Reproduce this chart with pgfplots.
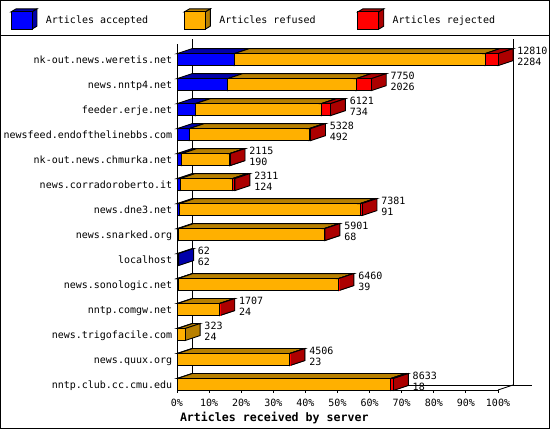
\documentclass[border=0pt]{standalone}
\usepackage{fontspec}
\setmainfont{DejaVu Sans Mono}
\usepackage{pgfplots}
\usepackage{pgfplotstable}
\pgfplotsset{compat=1.18}

\definecolor{cAcc}{RGB}{0,0,255}
\definecolor{cAccD}{RGB}{0,0,170}
\definecolor{cRef}{RGB}{255,176,0}
\definecolor{cRefD}{RGB}{184,128,0}
\definecolor{cRej}{RGB}{255,0,0}
\definecolor{cRejD}{RGB}{172,0,0}

\newcommand\chartfont{\fontsize{10bp}{12bp}\selectfont}
\newcommand\titlefont{\fontsize{11.6bp}{13bp}\selectfont\bfseries}

\pgfdeclareplotmark{empty}{}

% articles per server: accepted, refused, rejected, total
\pgfplotstableread{
y  name                          acc   ref    rej  total
0  nntp.club.cc.cmu.edu          18    8515   100  8633
1  news.quux.org                 23    4473   10   4506
2  news.trigofacile.com          24    299    0    323
3  nntp.comgw.net                24    1673   10   1707
4  news.sonologic.net            39    6406   15   6460
5  localhost                     62    0      0    62
6  news.snarked.org              68    5813   20   5901
7  news.dne3.net                 91    7210   80   7381
8  news.corradoroberto.it        124   2087   100  2311
9  nk-out.news.chmurka.net       190   1910   15   2115
10 newsfeed.endofthelinebbs.com  492   4776   60   5328
11 feeder.erje.net               734   5027   360  6121
12 news.nntp4.net                2026  5124   600  7750
13 nk-out.news.weretis.net       2284  10006  520  12810
}\servers

% one 3d bar segment per point, drawn left of the segment's right end;
% the segment length is the point meta (0..12810 -> 0..1000 -> 0..321bp)
\pgfplotsset{
  seg/.style 2 args={
    only marks, mark=empty, scatter,
    point meta=explicit, point meta min=0, point meta max=12810,
    scatter/@pre marker code/.code={%
      \pgfmathsetmacro\L{\pgfplotspointmetatransformed*0.321}%
      \pgfmathsetmacro\Lb{15-\L}%
      \ifdim\L pt>0pt
        \filldraw[draw=black,line width=0.9bp,fill=#2]
          (-\L bp,6bp) -- (0bp,6bp) -- (15bp,11bp) -- (\Lb bp,11bp) -- cycle;
        \filldraw[draw=black,line width=0.9bp,fill=#2]
          (0bp,-6bp) -- (15bp,-1bp) -- (15bp,11bp) -- (0bp,6bp) -- cycle;
        \filldraw[draw=black,line width=0.9bp,fill=#1]
          (-\L bp,-6bp) rectangle (0bp,6bp);
      \fi},
    scatter/@post marker code/.code={},
    legend image code/.code={%
      \filldraw[draw=black,line width=0.9bp,fill=#2]
        (0bp,8.6bp) -- (21bp,8.6bp) -- (26bp,11.6bp) -- (5bp,11.6bp) -- cycle;
      \filldraw[draw=black,line width=0.9bp,fill=#2]
        (21bp,-8.6bp) -- (26bp,-5.6bp) -- (26bp,11.6bp) -- (21bp,8.6bp) -- cycle;
      \filldraw[draw=black,line width=0.9bp,fill=#1]
        (0bp,-8.6bp) rectangle (21bp,8.6bp);},
  },
  countlabel/.style={only marks, mark=empty, forget plot,
    point meta=explicit symbolic, nodes near coords,
    nodes near coords style={anchor=base west,inner sep=0pt,font=\chartfont,
      xshift=19.2bp,yshift=#1}},
}

\begin{document}
\begin{tikzpicture}
\useasboundingbox (0,0) rectangle (550bp,430bp);
\fill[white] (0,0) rectangle (550bp,430bp);
\draw[line width=0.9bp] (0.5bp,1.5bp) rectangle (549.5bp,429.5bp);
\draw[line width=0.9bp] (0.5bp,394.5bp) -- (549.5bp,394.5bp);
\begin{axis}[
  at={(177bp,40bp)}, anchor=south west,
  scale only axis, width=321bp, height=346bp,
  xmin=0, xmax=12810, ymin=-0.22, ymax=13.628,
  clip=false,
  axis x line*=bottom, axis y line*=left,
  axis line style={line width=0.9bp,-},
  tick align=outside, major tick length=3bp,
  scaled x ticks=false,
  xtick={0,1281,...,12810},
  xticklabels={0\%,10\%,20\%,30\%,40\%,50\%,60\%,70\%,80\%,90\%,100\%},
  xtick style={black,line width=0.9bp},
  ytick={0,...,13},
  yticklabels from table={\servers}{name},
  ytick style={draw=none},
  ticklabel style={font=\chartfont},
  xticklabel style={anchor=base,inner sep=0pt,yshift=-13.9bp},
  yticklabel style={anchor=base east,inner sep=0pt,xshift=-1.6bp,yshift=-3.6bp},
  xlabel={Articles received by server},
  xlabel style={at={(axis description cs:0.3031,-0.0916)},anchor=base,
    inner sep=0pt,font=\titlefont},
  legend columns=3,
  legend style={draw=none,fill=none,inner sep=0pt,
    at={(-0.5193,1.1032)},anchor=north west,
    nodes={inner sep=0pt,font=\chartfont},
    /tikz/every odd column/.append style={column sep=8.5bp}},
]
% back wall and floor of the 3d frame
\draw[line width=0.9bp] ([shift={(15bp,5bp)}]rel axis cs:0,0) -- ([shift={(15bp,5bp)}]rel axis cs:0,1);
\draw[line width=0.9bp] ([shift={(15bp,5bp)}]rel axis cs:1,0) -- ([shift={(15bp,5bp)}]rel axis cs:1,1);
\draw[line width=0.9bp] (rel axis cs:1,0) -- ([shift={(15bp,5bp)}]rel axis cs:1,0);
\draw[line width=0.9bp] ([shift={(15bp,5bp)}]rel axis cs:0,0) -- ([shift={(34bp,5bp)}]rel axis cs:1,0);

\addplot[seg={cAcc}{cAccD}] table[x=acc,y=y,meta=acc]{\servers};
\addlegendentry{\makebox[138bp][l]{Articles accepted}}
\addplot[seg={cRef}{cRefD}] table[x expr=\thisrow{acc}+\thisrow{ref},y=y,meta=ref]{\servers};
\addlegendentry{\makebox[138bp][l]{Articles refused}}
\addplot[seg={cRej}{cRejD}] table[x=total,y=y,meta=rej]{\servers};
\addlegendentry{\makebox[138bp][l]{Articles rejected}}

% total and accepted counts beside each bar
\addplot[countlabel=5.2bp] table[x=total,y=y,meta=total]{\servers};
\addplot[countlabel=-5.8bp] table[x=total,y=y,meta=acc]{\servers};
\end{axis}
\end{tikzpicture}
\end{document}
